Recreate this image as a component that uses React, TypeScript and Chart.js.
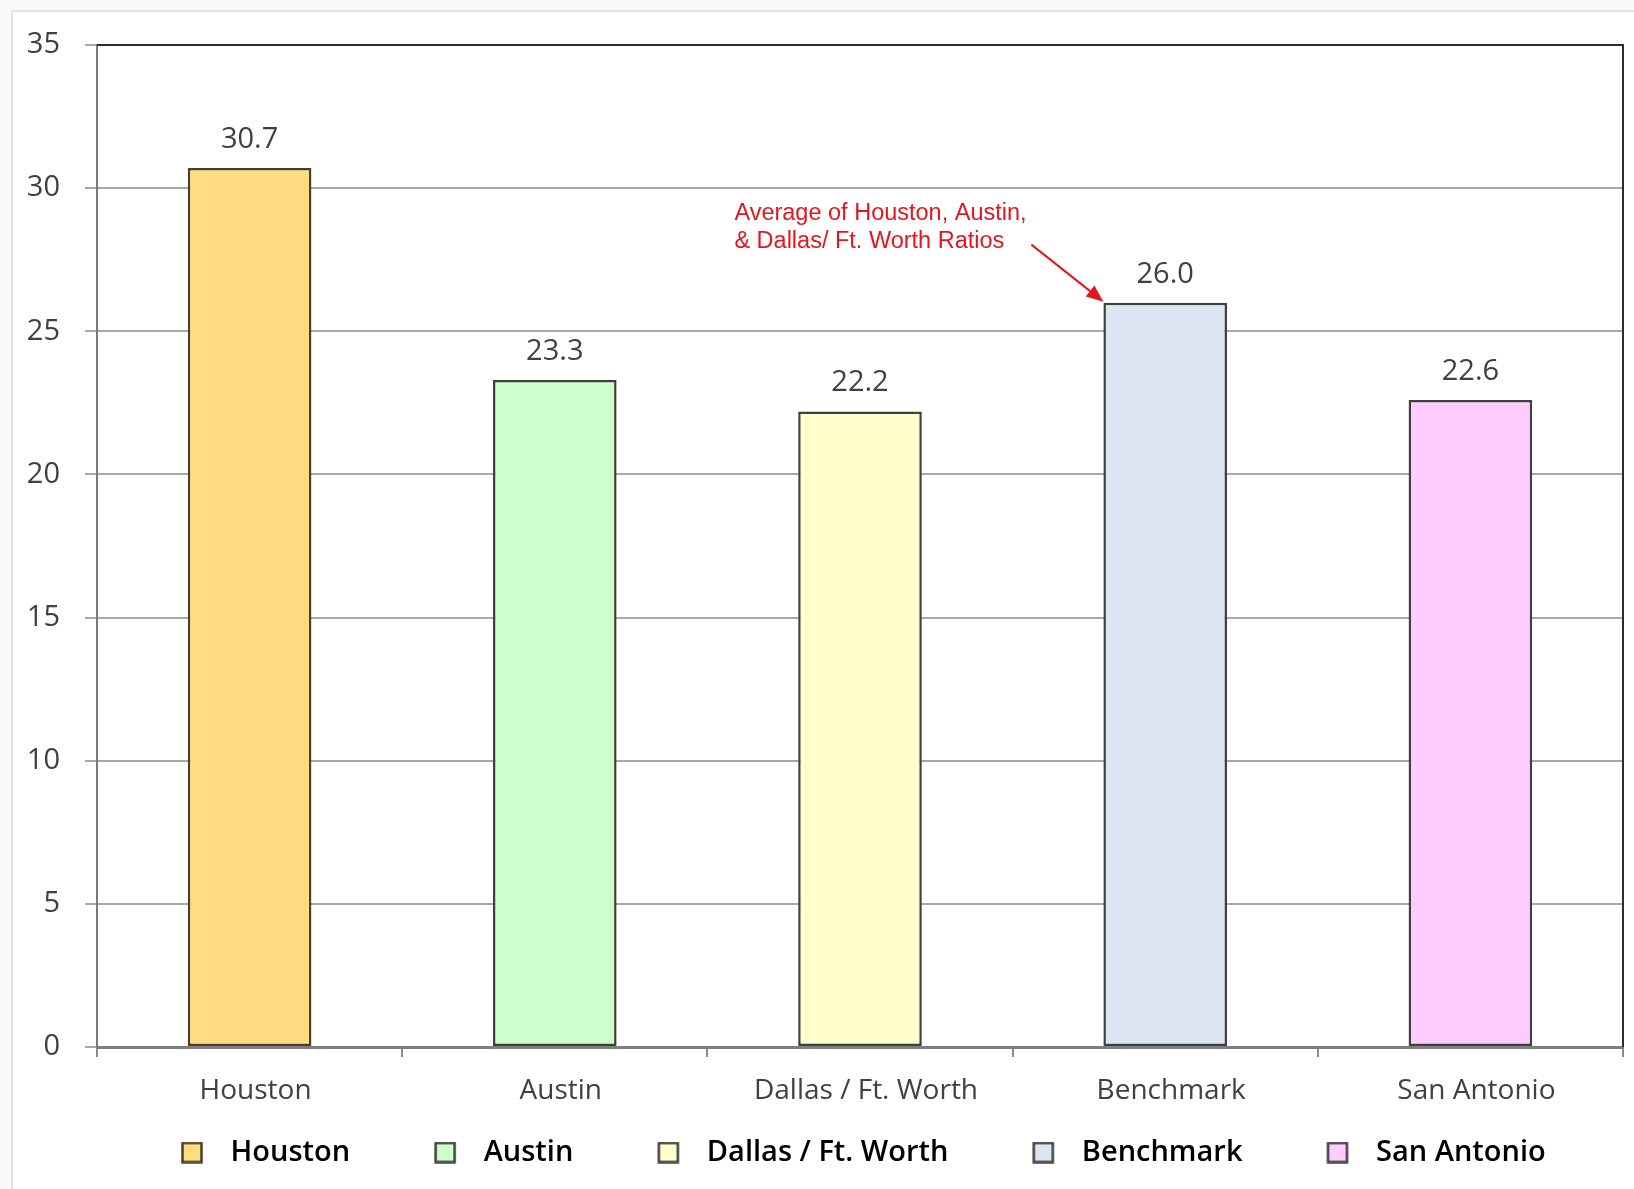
import React, { useEffect, useRef } from 'react';
import { Chart, registerables } from 'chart.js';

Chart.register(...registerables);

// ---- data ----
const categories = ['Houston', 'Austin', 'Dallas / Ft. Worth', 'Benchmark', 'San Antonio'];
const ratios = [30.7, 23.3, 22.2, 26.0, 22.6];
const barColors = ['#ffdc82', '#ccffcc', '#ffffcc', '#dce6f2', '#ffccff'];
const barBorders = ['#4a3f26', '#3f3f3f', '#3f3f3f', '#3f3f3f', '#3f3f3f'];
const yMin = 0;
const yMax = 35;
const yStep = 5;
const annotationLines = ['Average of Houston, Austin,', '& Dallas/ Ft. Worth Ratios'];
const annotationTarget = 'Benchmark';

const GRAY_TEXT = '#404040';
const FONT = '"Open Sans", "Noto Sans", sans-serif';

// legend swatch: blank lead-in (item spacing) then a bordered square
const SWATCH_LEAD = 58;
const SWATCH_W = 93;

function makeLegendSwatch(fill: string, stroke: string): HTMLCanvasElement {
  const c = document.createElement('canvas');
  c.width = SWATCH_W;
  c.height = 22;
  const g = c.getContext('2d')!;
  g.fillStyle = fill;
  g.fillRect(SWATCH_LEAD + 1.5, 1.5, 19, 19);
  g.strokeStyle = stroke;
  g.lineWidth = 2.5;
  g.strokeRect(SWATCH_LEAD + 1.5, 1.5, 19, 19);
  return c;
}

const plotFrame = {
  id: 'plotFrame',
  afterDatasetsDraw(chart: any) {
    const { ctx, chartArea } = chart;
    const { left, top, right, bottom } = chartArea;
    ctx.save();
    ctx.strokeStyle = '#2e2e2e';
    ctx.lineWidth = 2;
    ctx.beginPath();
    ctx.moveTo(left, top);
    ctx.lineTo(right, top);
    ctx.lineTo(right, bottom);
    ctx.stroke();
    ctx.restore();
  },
};

const valueLabels = {
  id: 'valueLabels',
  afterDatasetsDraw(chart: any) {
    const { ctx } = chart;
    const meta = chart.getDatasetMeta(0);
    ctx.save();
    ctx.font = `29px ${FONT}`;
    ctx.fillStyle = GRAY_TEXT;
    ctx.textAlign = 'center';
    ctx.textBaseline = 'alphabetic';
    meta.data.forEach((bar: any, i: number) => {
      ctx.fillText(ratios[i].toFixed(1), bar.x, bar.y - 20);
    });
    ctx.restore();
  },
};

const annotation = {
  id: 'annotation',
  afterDatasetsDraw(chart: any) {
    const { ctx } = chart;
    const meta = chart.getDatasetMeta(0);
    const idx = categories.indexOf(annotationTarget);
    const bar: any = meta.data[idx];
    if (!bar) return;
    const tipX = bar.x - bar.width / 2;
    const tipY = bar.y - 1;
    const tailX = tipX - 72;
    const tailY = tipY - 57;
    const red = '#e3161f';
    ctx.save();
    const dx = tipX - tailX;
    const dy = tipY - tailY;
    const len = Math.hypot(dx, dy);
    const ux = dx / len;
    const uy = dy / len;
    const headLen = 17;
    const headHalf = 7;
    const bx = tipX - ux * headLen;
    const by = tipY - uy * headLen;
    ctx.strokeStyle = red;
    ctx.lineWidth = 2;
    ctx.beginPath();
    ctx.moveTo(tailX, tailY);
    ctx.lineTo(bx, by);
    ctx.stroke();
    ctx.fillStyle = red;
    ctx.beginPath();
    ctx.moveTo(tipX, tipY);
    ctx.lineTo(bx - uy * headHalf, by + ux * headHalf);
    ctx.lineTo(bx + uy * headHalf, by - ux * headHalf);
    ctx.closePath();
    ctx.fill();
    ctx.font = '23.5px "Liberation Sans", Arial, sans-serif';
    ctx.textAlign = 'left';
    ctx.textBaseline = 'alphabetic';
    ctx.fillText(annotationLines[0], tipX - 369, tipY - 82);
    ctx.fillText(annotationLines[1], tipX - 369, tipY - 54);
    ctx.restore();
  },
};

export default function App() {
  const canvasRef = useRef<HTMLCanvasElement | null>(null);

  useEffect(() => {
    if (!canvasRef.current) return;
    const swatches = categories.map((_, i) => makeLegendSwatch(barColors[i], barBorders[i]));
    const chart = new Chart(canvasRef.current, {
      type: 'bar',
      data: {
        labels: categories,
        datasets: [
          {
            label: 'Ratio',
            data: ratios,
            backgroundColor: barColors,
            borderColor: barBorders,
            borderWidth: 2.5,
            borderSkipped: false,
            categoryPercentage: 1,
            barPercentage: 0.405,
          },
        ],
      },
      options: {
        responsive: false,
        animation: false,
        events: [],
        layout: { padding: { left: 0, right: 11, top: 45, bottom: 12 } },
        plugins: {
          tooltip: { enabled: false },
          title: { display: false },
          legend: {
            position: 'bottom',
            align: 'start',
            fullSize: false,
            onClick: () => {},
            labels: {
              usePointStyle: true,
              pointStyleWidth: SWATCH_W,
              padding: 26,
              color: '#000',
              font: { family: FONT, size: 29, weight: '600' as any },
              generateLabels: () =>
                categories.map((c, i) => ({
                  text: c,
                  fillStyle: barColors[i],
                  strokeStyle: barBorders[i],
                  lineWidth: 2,
                  hidden: false,
                  index: i,
                  datasetIndex: 0,
                  pointStyle: swatches[i] as any,
                  fontColor: '#000',
                })),
            },
          },
        },
        scales: {
          x: {
            offset: true,
            afterFit: (scale: any) => {
              scale.height = 65;
            },
            grid: {
              display: true,
              drawOnChartArea: false,
              drawTicks: true,
              tickLength: 10,
              color: '#8c8c8c',
              lineWidth: 2,
              offset: true,
            },
            border: { display: true, color: '#7f7f7f', width: 3 },
            ticks: {
              color: GRAY_TEXT,
              padding: 17,
              labelOffset: 6,
              maxRotation: 0,
              autoSkip: false,
              font: { family: FONT, size: 28 },
            },
          },
          y: {
            min: yMin,
            max: yMax,
            afterFit: (scale: any) => {
              scale.width = 97;
            },
            grid: {
              color: '#a8a8a8',
              lineWidth: 2,
              tickLength: 12,
              drawTicks: true,
            },
            border: { display: true, color: '#7a7a7a', width: 2 },
            ticks: {
              stepSize: yStep,
              color: GRAY_TEXT,
              padding: 25,
              font: { family: FONT, size: 29 },
            },
          },
        },
      },
      plugins: [plotFrame, valueLabels, annotation],
    });
    return () => chart.destroy();
  }, []);

  return (
    <div
      style={{
        position: 'fixed',
        left: 0,
        top: 0,
        width: 1634,
        height: 1189,
        overflow: 'hidden',
        background: '#f7f9fa',
      }}
    >
      <div
        style={{
          position: 'absolute',
          left: 11,
          top: 10,
          width: 1700,
          height: 1300,
          border: '2px solid #e0e3e5',
          background: '#ffffff',
        }}
      />
      <canvas
        ref={canvasRef}
        width={1634}
        height={1189}
        style={{ position: 'absolute', left: 0, top: 0, width: 1634, height: 1189 }}
      />
    </div>
  );
}
